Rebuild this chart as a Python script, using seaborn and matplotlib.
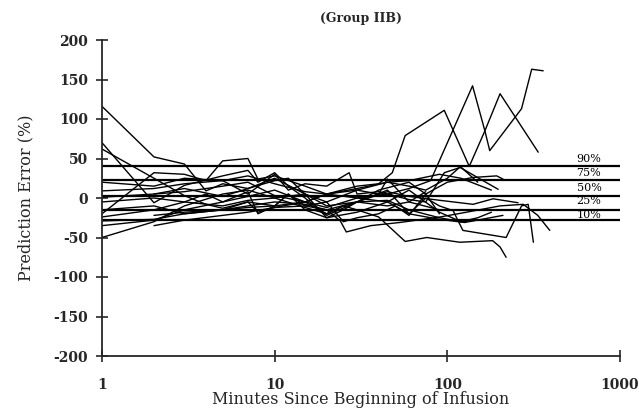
import numpy as np
import pandas as pd
import matplotlib
matplotlib.use("Agg")
import matplotlib.pyplot as plt
import seaborn as sns
from matplotlib.ticker import NullLocator, FixedLocator

# ---- data ----
s1_t = [1, 2, 3, 4, 5, 7, 10, 15, 20, 30, 45, 60, 91, 141, 184, 257]
s1_y = [116, 52, 43, 9, 18, 12, 25, 5, -10, -5, 8, 2, -3, -8, -1, -6]
s2_t = [1, 2, 3, 5, 7, 8, 10, 12, 15, 20, 30, 40, 60, 75, 100, 141, 193, 210]
s2_y = [70, -6, 16, 28, 35, 20, 32, 15, 0, -22, -5, 10, 20, 5, 20, 26, 28, 24]
s3_t = [1, 2, 3, 4, 5, 7, 10, 12, 15, 20, 25, 30, 45, 60, 75, 90, 108, 123, 219, 269, 294, 315]
s3_y = [62, 25, 3, -8, -13, -5, -10, 5, -15, -25, -15, -5, 10, -20, 0, -10, -16, -41, -50, -10, -8, -56]
s4_t = [1, 2, 3, 5, 7, 10, 15, 20, 30, 45, 60, 80, 140, 165, 176, 269, 308, 359]
s4_y = [9, 12, 18, 22, 28, 18, 8, 5, 0, 5, 12, 22, 142, 85, 60, 113, 163, 161]
s5_t = [1, 2, 3, 5, 7, 10, 15, 20, 30, 45, 60, 75, 100, 118, 155, 197]
s5_y = [1, 5, 8, 15, 20, 3, -5, 5, 12, 20, 15, 10, 25, 39, 24, 11]
s6_t = [1, 2, 3, 4, 5, 7, 8, 10, 15, 20, 30, 40, 48, 57, 96, 134, 165, 202, 336]
s6_y = [-20, 32, 30, 22, 47, 50, 24, 28, 15, 5, 15, 18, 32, 79, 111, 40, 85, 132, 58]
s7_t = [1, 2, 3, 5, 7, 10, 15, 20, 25, 30, 40, 57, 76, 118, 183, 202, 219]
s7_y = [-24, -15, -5, -10, -3, 0, -12, -20, -10, -15, -24, -55, -50, -56, -54, -62, -75]
s8_t = [1, 2, 3, 5, 7, 10, 15, 20, 24, 26, 36, 53, 91, 129, 202, 275, 334, 392]
s8_y = [-29, -27, -20, -15, -10, -5, -8, -15, -29, -43, -35, -31, -24, -18, -10, -8, -22, -41]
s9_t = [1, 2, 3, 5, 7, 10, 15, 20, 30, 45, 60, 90, 126, 210]
s9_y = [-35, -28, -15, -5, 2, 10, -5, -12, 0, -5, -20, -27, -31, -22]
s10_t = [1, 2, 3, 5, 7, 10, 15, 20, 30, 45, 60, 90, 120, 150, 180]
s10_y = [-50, -30, -10, 5, 10, 0, 5, -25, -18, -5, 10, -18, -30, -25, -18]
s11_t = [2, 3, 5, 7, 10, 15, 20, 30, 45, 60, 90, 120, 180]
s11_y = [-22, -18, -15, -12, -10, -5, 5, 10, 20, 22, 30, 25, 10]
s12_t = [2, 3, 5, 7, 10, 15, 20, 30, 45, 60, 90, 120, 150]
s12_y = [-35, -28, -22, -18, -12, -10, -15, -5, -3, -15, -25, -30, -28]
s13_t = [1, 2, 3, 5, 7, 10, 12, 15, 20, 27, 30, 40, 60, 75, 96, 120, 150]
s13_y = [20, 15, 25, 22, 5, 30, 10, 18, 15, 32, 5, 8, -2, -5, 32, 39, 20]
s14_t = [1, 2, 3, 4, 5, 7, 8, 10, 12, 15, 20, 25, 30, 40, 50, 60, 75, 90]
s14_y = [-5, 0, -5, 5, -5, 8, -20, -10, 5, -10, -5, -30, -25, -20, -10, -22, 5, -20]
s15_t = [1, 2, 3, 5, 7, 8, 10, 15, 20, 25, 30, 45, 60, 90]
s15_y = [-15, -10, -20, -15, -5, -18, -12, -5, -20, -10, -5, -10, -5, -15]
s16_t = [2, 3, 5, 7, 10, 12, 15, 20, 30, 40, 45, 60, 75]
s16_y = [5, 12, 2, 12, 22, 25, 5, -5, 10, 5, 24, -5, 8]

series = [(s1_t, s1_y), (s2_t, s2_y), (s3_t, s3_y), (s4_t, s4_y), (s5_t, s5_y),
          (s6_t, s6_y), (s7_t, s7_y), (s8_t, s8_y), (s9_t, s9_y), (s10_t, s10_y),
          (s11_t, s11_y), (s12_t, s12_y), (s13_t, s13_y), (s14_t, s14_y),
          (s15_t, s15_y), (s16_t, s16_y)]

pct_labels = ["90%", "75%", "50%", "25%", "10%"]
pct_values = [40, 23, 2.5, -15, -28]
pct_label_y = [49, 32, 13, -4, -21]

x_ticks = [1, 10, 100, 1000]
x_ticklabels = ["1", "10", "100", "1000"]
y_ticks = [200, 150, 100, 50, 0, -50, -100, -150, -200]
y_ticklabels = ["200", "150", "100", "50", "0", "-50", "-100", "-150", "-200"]

rows = []
for i, (t, y) in enumerate(series):
    for tt, yy in zip(t, y):
        rows.append({"patient": i, "minutes": tt, "pe": yy})
df = pd.DataFrame(rows)

# ---- plot ----
sns.set_style("ticks")
plt.rcParams["font.family"] = ["DejaVu Serif"]

fig = plt.figure(figsize=(6.39, 4.09), dpi=100)
ax = fig.add_axes([102 / 639, 1 - 356 / 409, (620 - 102) / 639, (356 - 40) / 409])

sns.lineplot(data=df, x="minutes", y="pe", units="patient", estimator=None,
             color="black", linewidth=1.0, sort=False, ax=ax, legend=False)

ax.hlines(pct_values, 1, 1000, colors="black", linewidth=1.6)
for lab, ly in zip(pct_labels, pct_label_y):
    ax.text(560, ly, lab, fontsize=8, ha="left", va="center", color="black")

ax.set_xscale("log")
ax.set_xlim(1, 1000)
ax.set_ylim(-200, 200)
ax.xaxis.set_major_locator(FixedLocator(x_ticks))
ax.xaxis.set_minor_locator(NullLocator())
ax.set_xticklabels(x_ticklabels)
ax.set_yticks(y_ticks)
ax.set_yticklabels(y_ticklabels)
ax.tick_params(axis="both", direction="inout", length=8, width=1.2, labelsize=10)
ax.tick_params(axis="x", pad=12)
ax.tick_params(axis="y", pad=6)
for lab in ax.get_xticklabels() + ax.get_yticklabels():
    lab.set_fontweight("bold")

sns.despine(ax=ax)
ax.spines["left"].set_linewidth(1.3)
ax.spines["bottom"].set_linewidth(1.3)

ax.set_xlabel("Minutes Since Beginning of Infusion", fontsize=11.5, labelpad=-1)
ax.set_ylabel("Prediction Error (%)", fontsize=11.5, labelpad=14)
ax.set_title("(Group IIB)", fontsize=9, fontweight="bold", pad=13)

fig.savefig("out.png", dpi=100)
